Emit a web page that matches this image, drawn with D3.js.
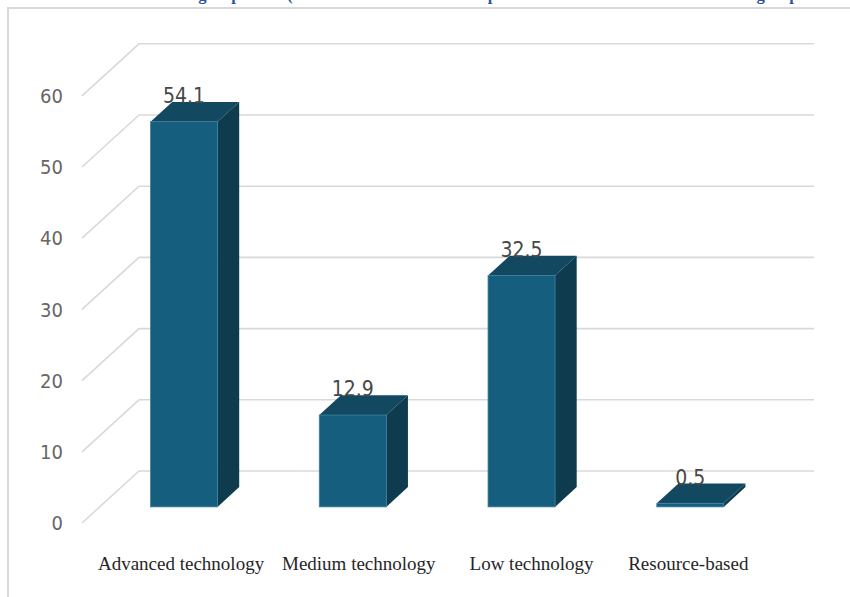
<!DOCTYPE html>
<html>
<head>
<meta charset="utf-8">
<script src="https://cdn.jsdelivr.net/npm/d3@7"></script>
<style>
  html, body { margin: 0; padding: 0; background: #ffffff; }
  svg { display: block; }
</style>
</head>
<body>
<svg id="chart" width="850" height="597"></svg>
<script>
// Share of exports by technology group (%)
const categories = ["Advanced technology", "Medium technology", "Low technology", "Resource-based"];
const values = [54.1, 12.9, 32.5, 0.5];
const tickValues = [0, 10, 20, 30, 40, 50, 60];
const titleText = "Chart 3. The tech group share (% of total manufactured exports classified as the same main tech group in 2020";

const svg = d3.select("#chart");

// 3-D box geometry: front plane coordinates are shifted by (depthX, depthY) toward the back wall
const depthX = 57, depthY = -52;
const barFront = 0.31, barBack = 0.69;   // bar occupies the middle of the floor depth

const x = d3.scaleBand()
  .domain(categories)
  .range([82, 757])
  .paddingInner(0.603)
  .paddingOuter(0.3015);

const y = d3.scaleLinear().domain([0, 60]).range([523, 95.8]);

const proj = (X, Y, z) => [X + z * depthX, Y + z * depthY];

// outer chart frame
svg.append("rect")
  .attr("x", 8).attr("y", 8)
  .attr("width", 900).attr("height", 700)
  .attr("fill", "none")
  .attr("stroke", "#d9d9d9")
  .attr("stroke-width", 2);

// title (runs past the top edge; only its descenders fall inside)
svg.append("text")
  .attr("x", 70).attr("y", -0.5)
  .attr("font-family", "'Liberation Serif', serif")
  .attr("font-weight", "bold")
  .attr("font-size", 16.6)
  .attr("fill", "#2E54A1")
  .text(titleText);

// gridlines: side-wall diagonals and back-wall horizontals
const grid = svg.append("g")
  .attr("stroke", "#d9d9d9")
  .attr("stroke-width", 1.6)
  .attr("fill", "none");

tickValues.forEach(v => {
  const [bx, by] = proj(x.range()[0], y(v), 1);
  const [ex] = proj(x.range()[1], y(v), 1);
  grid.append("path").attr("d", d3.line()([[x.range()[0], y(v)], [bx, by], [ex, by]]));
});

// value axis labels
svg.append("g")
  .selectAll("text")
  .data(tickValues)
  .join("text")
  .attr("x", 63)
  .attr("y", d => y(d))
  .attr("dy", "0.36em")
  .attr("text-anchor", "end")
  .attr("font-family", "'Liberation Sans Narrow', 'DejaVu Sans Condensed', sans-serif")
  .attr("font-size", 20)
  .attr("fill", "#666666")
  .text(d => d);

// bars as extruded boxes
const bars = svg.append("g")
  .selectAll("g")
  .data(categories.map((c, i) => ({ c, v: values[i] })))
  .join("g");

const w = x.bandwidth();

bars.append("path")   // top face
  .attr("fill", "#124860")
  .attr("d", d => {
    const X = x(d.c), T = y(d.v);
    return d3.line()([proj(X, T, barFront), proj(X + w, T, barFront), proj(X + w, T, barBack), proj(X, T, barBack)]) + "Z";
  });

bars.append("path")   // right side face
  .attr("fill", "#0E3C4E")
  .attr("d", d => {
    const X = x(d.c) + w, T = y(d.v), B = y(0);
    return d3.line()([proj(X, T, barFront), proj(X, T, barBack), proj(X, B, barBack), proj(X, B, barFront)]) + "Z";
  });

bars.append("rect")   // front face
  .attr("fill", "#165E7D")
  .attr("stroke", "#3C7F9E")
  .attr("stroke-width", 0.8)
  .attr("x", d => proj(x(d.c), 0, barFront)[0])
  .attr("y", d => proj(0, y(d.v), barFront)[1])
  .attr("width", w)
  .attr("height", d => y(0) - y(d.v));

// value labels above each bar
bars.append("text")
  .attr("x", d => proj(x(d.c) + w / 2, 0, barFront)[0])
  .attr("y", d => proj(0, y(d.v), barBack)[1] + 1)
  .attr("text-anchor", "middle")
  .attr("font-family", "'Liberation Sans Narrow', 'DejaVu Sans Condensed', sans-serif")
  .attr("font-size", 21)
  .attr("fill", "#474747")
  .text(d => d.v);

// category labels, nudged apart so neighbours keep a gap
const labelShift = [-3, 6, 10, -2];
svg.append("g")
  .selectAll("text")
  .data(categories)
  .join("text")
  .attr("x", (d, i) => proj(x(d) + w / 2, 0, barFront)[0] + labelShift[i])
  .attr("y", 563)
  .attr("dy", "0.35em")
  .attr("text-anchor", "middle")
  .attr("font-family", "'Liberation Serif', serif")
  .attr("font-size", 19)
  .attr("fill", "#262626")
  .text(d => d);
</script>
</body>
</html>
